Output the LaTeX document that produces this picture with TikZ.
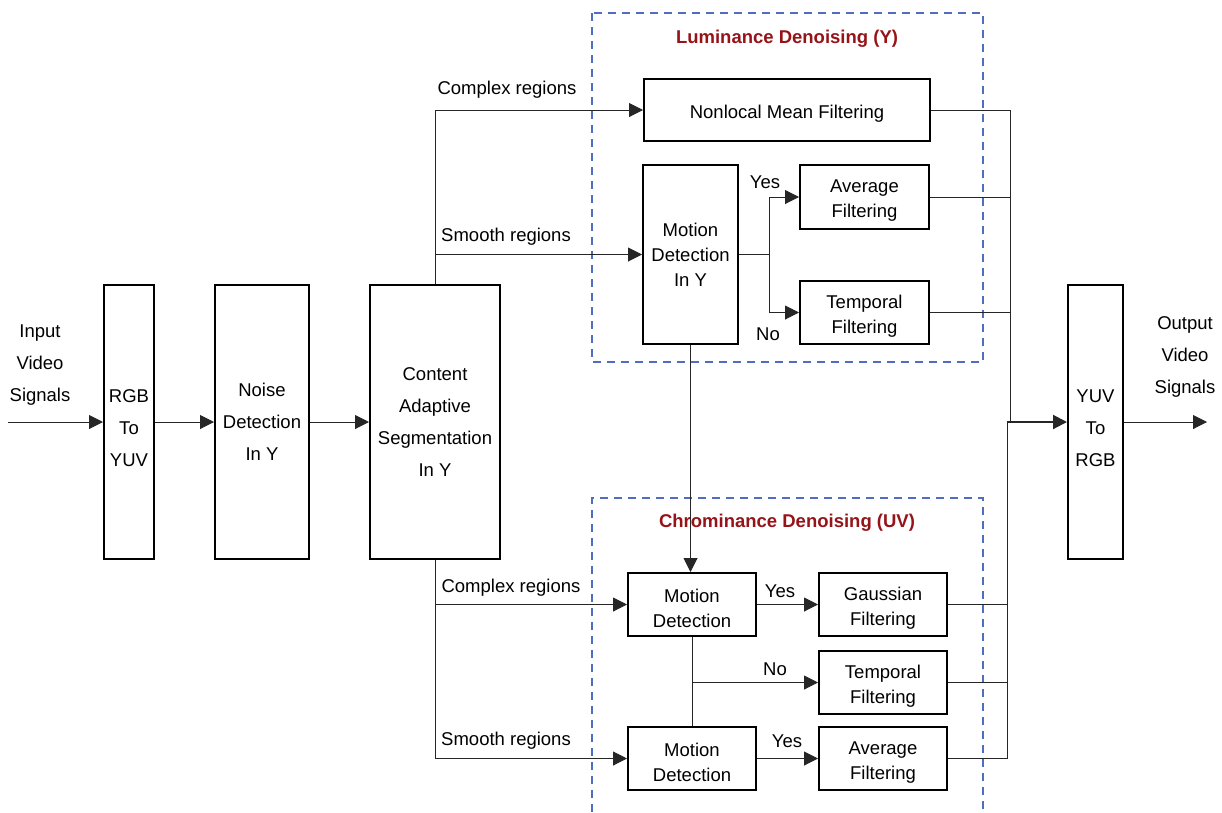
\documentclass[tikz,border=0pt]{standalone}
\usepackage{fontspec}
\setmainfont{Liberation Sans}
\usetikzlibrary{arrows.meta}
\definecolor{dashblue}{RGB}{80,110,190}
\definecolor{titlered}{RGB}{150,20,25}
\begin{document}
\begin{tikzpicture}[x=1pt,y=-1pt,
  every node/.style={font=\fontsize{18.5}{25}\selectfont},
  box/.style={draw=black, line width=2pt, inner sep=0pt, align=center},
  tallbox/.style={box, font=\fontsize{18.5}{32}\selectfont},
  txtlbl/.style={inner sep=0pt, align=center, font=\fontsize{18.5}{25}\selectfont},
  tallbl/.style={inner sep=0pt, align=center, font=\fontsize{18.5}{32}\selectfont},
  t/.style={label={[txtlbl, yshift=-4pt]center:#1}},
  tt/.style={label={[tallbl, yshift=-6pt]center:#1}},
  conn/.style={line width=1pt, draw=black!85},
  arr/.style={conn, -{Triangle[length=14pt,width=14pt]}},
  dashbox/.style={draw=dashblue, line width=2pt, dash pattern=on 8pt off 6pt},
  title/.style={text=titlered, font=\fontsize{18.5}{25}\selectfont\bfseries},
  lbl/.style={inner sep=0pt}
]
\useasboundingbox[fill=white] (0,0) rectangle (1222,812);

% dashed groups
\draw[dashbox] (592,13) rectangle (983,362);
\draw[dashbox] (592,812) -- (592,498) -- (983,498) -- (983,812);
\node[title] (tY) at (787,39) {Luminance Denoising (Y)};
\node[title] (tUV) at (787,523) {Chrominance Denoising (UV)};

% main chain
\node[box, minimum width=50pt, minimum height=274pt, tt={RGB\\To\\YUV}] (rgb) at (129,422) {};
\node[tallbox, minimum width=94pt, minimum height=274pt] (noise) at (262,422) {Noise\\Detection\\In Y};
\node[tallbox, minimum width=130pt, minimum height=274pt] (content) at (435,422) {Content\\Adaptive\\Segmentation\\In Y};
\node[box, minimum width=55pt, minimum height=274pt, tt={YUV\\To\\RGB}] (yuv) at (1095.5,422) {};

\node[tallbl] (inlbl) at (40,365) {Input\\Video\\Signals};
\node[tallbl] (outlbl) at (1185,357) {Output\\Video\\Signals};

% luminance
\node[box, minimum width=286pt, minimum height=62pt, t={Nonlocal Mean Filtering}] (nlm) at (787,110) {};
\node[box, minimum width=95pt, minimum height=179pt] (mdy) at (690.5,254.5) {Motion\\Detection\\In Y};
\node[box, minimum width=129pt, minimum height=64pt, t={Average\\Filtering}] (avgY) at (864.5,197) {};
\node[box, minimum width=129pt, minimum height=63pt, t={Temporal\\Filtering}] (tempY) at (864.5,312.5) {};

% chrominance
\node[box, minimum width=128pt, minimum height=63pt, t={Motion\\Detection}] (md1) at (692,604.5) {};
\node[box, minimum width=128pt, minimum height=63pt, t={Motion\\Detection}] (md2) at (692,758.5) {};
\node[box, minimum width=128pt, minimum height=63pt, t={Gaussian\\Filtering}] (gauss) at (883,604.5) {};
\node[box, minimum width=128pt, minimum height=63pt, t={Temporal\\Filtering}] (temp2) at (883,682.5) {};
\node[box, minimum width=128pt, minimum height=63pt, t={Average\\Filtering}] (avg2) at (883,758.5) {};

% coordinates
\coordinate (in) at (8,422);
\coordinate (out) at (1207,422);
\coordinate (split) at (769,254.5);
\coordinate (jY) at (1010,422);
\coordinate (jUV) at (1007,422);

% connectors main
\draw[arr] (in) -- (rgb.west);
\draw[arr] (rgb.east) -- (noise.west);
\draw[arr] (noise.east) -- (content.west);
\draw[arr] (content.north) |- (nlm.west);
\draw[arr] (content.north |- mdy.west) -- (mdy.west);
\draw[arr] (content.south) |- (md2.west);
\draw[arr] (content.south |- md1.west) -- (md1.west);

\node[lbl] (l1) at (507,90) {Complex regions};
\node[lbl] (l2) at (506,237) {Smooth regions};
\node[lbl] (l3) at (511,588) {Complex regions};
\node[lbl] (l4) at (506,741) {Smooth regions};

% luminance internal
\draw[conn] (mdy.east) -- (split);
\draw[arr] (split) |- (avgY.west);
\draw[arr] (split) |- (tempY.west);
\node[lbl] (yes1) at (765,182) {Yes};
\node[lbl] (no1) at (768,334) {No};

\draw[arr] (mdy.south) -- (mdy.south |- md1.north);

% chrominance internal
\draw[arr] (md1.east) -- (gauss.west);
\draw[conn] (md1.south) -- (md2.north);
\draw[arr] (md1.south |- temp2.west) -- (temp2.west);
\draw[arr] (md2.east) -- (avg2.west);
\node[lbl] (yes2) at (780,591) {Yes};
\node[lbl] (no2) at (775,669) {No};
\node[lbl] (yes3) at (787,741) {Yes};

% outputs
\draw[conn] (nlm.east) -| (jY);
\draw[conn] (avgY.east) -| (jY);
\draw[conn] (tempY.east) -| (jY);
\draw[conn] (gauss.east) -| (jUV);
\draw[conn] (temp2.east) -| (jUV);
\draw[conn] (avg2.east) -| (jUV);
\draw[arr, line width=2pt] (jUV) -- (yuv.west);
\draw[arr] (yuv.east) -- (out);
\end{tikzpicture}
\end{document}
